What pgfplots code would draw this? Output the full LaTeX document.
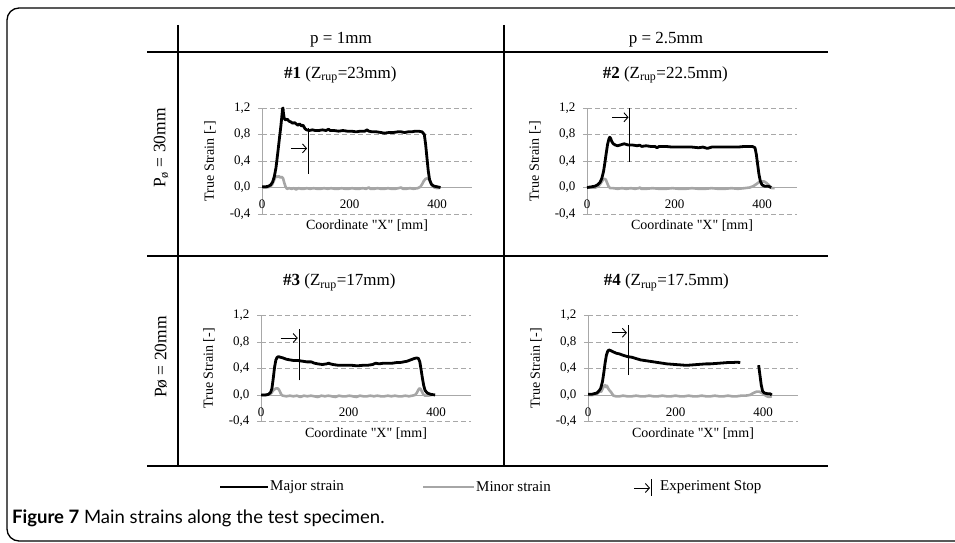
\documentclass[border=0pt]{standalone}
\usepackage{pgfplots}
\pgfplotsset{compat=1.18}
\usepackage{fontspec}
\setmainfont{Liberation Serif}
\newfontfamily\plainserif{Liberation Serif}
\newfontfamily\capfont{Lato}
\usetikzlibrary{arrows.meta}
\definecolor{minorc}{HTML}{A6A6A6}
\definecolor{gridc}{HTML}{A8A8A8}
\pgfplotsset{
  strainax/.style={
    scale only axis, width=210pt, height=106pt,
    xmin=0, xmax=480, ymin=-0.4, ymax=1.2, clip=false,
    axis x line=middle, axis y line=left,
    axis line style={-, draw=gridc, line width=0.9pt},
    hide obscured x ticks=false, hide obscured y ticks=false,
    xtick={0,200,400}, ytick={-0.4,0,0.4,0.8,1.2},
    ymajorgrids, major grid style={gridc, dash pattern=on 5pt off 3pt, line width=0.8pt},
    x tick style={draw=none}, y tick style={draw=gridc, line width=0.8pt},
    tick align=outside, major tick length=4pt,
    /pgf/number format/assume math mode=true,
    yticklabel style={/pgf/number format/.cd, fixed, fixed zerofill, precision=1, use comma, /tikz/.cd, font=\fontsize{13}{14}\selectfont, xshift=-4pt},
    xticklabel style={font=\fontsize{13}{14}\selectfont, yshift=-5pt},
    xlabel={\plainserif Coordinate "X" [mm]}, ylabel={True Strain [-]},
    xlabel style={at={(axis description cs:0.5,0)}, anchor=center, yshift=-12pt, font=\fontsize{14}{16}\selectfont},
    ylabel style={at={(axis description cs:-0.248,0.5)}, anchor=center, font=\fontsize{14}{16}\selectfont},
    title style={at={(axis description cs:0.373,1.255)}, anchor=center, font=\fontsize{17}{19}\selectfont},
  },
  major/.style={black, line width=2.8pt, line join=round},
  minor/.style={minorc, line width=2.6pt, line join=round},
  stopline/.style={black, line width=0.9pt},
  stoparrow/.style={black, line width=0.9pt, -{Straight Barb[length=4pt,width=9pt]}},
}
\begin{document}
\begin{tikzpicture}
\path[use as bounding box] (0pt,0pt) rectangle (955pt,543pt);
% outer frame
\draw[line width=1.3pt, rounded corners=12pt] (975pt,535pt) -- (7pt,535pt) -- (7pt,2pt) -- (975pt,2pt);
% table lines
\draw[line width=2.8pt] (147pt,491pt) -- (828pt,491pt);
\draw[line width=2.8pt] (147pt,287pt) -- (828pt,287pt);
\draw[line width=2.8pt] (147pt,77pt) -- (828pt,77pt);
\draw[line width=2.8pt] (178pt,518pt) -- (178pt,77pt);
\draw[line width=2.8pt] (504pt,518pt) -- (504pt,77pt);
% headers
\node[font=\fontsize{17}{19}\selectfont] at (341pt,503pt) {p = 1mm};
\node[font=\fontsize{17}{19}\selectfont] at (666pt,503pt) {p = 2.5mm};
\node[font=\fontsize{17.5}{19}\selectfont, rotate=90] at (161pt,395pt) {P\textsubscript{ø} = 30mm};
\node[font=\fontsize{17.5}{19}\selectfont, rotate=90] at (161pt,186pt) {Pø = 20mm};

% Panel 1
\begin{axis}[strainax, at={(262pt,329pt)}, anchor=south west, title={{\bfseries\#1} (Z\textsubscript{rup}=23mm)}]
\addplot[minor] coordinates {(0,0.0)(10,0.0)(18,0.01)(23,0.04)(27,0.10)(30,0.15)(33,0.17)(36,0.16)(39,0.17)(42,0.15)(45,0.16)(48,0.14)(51,0.07)(54,0.01)(57,-0.02)(62,-0.01)(68,-0.02)(73,-0.01)(78,-0.03)(84,-0.01)(90,-0.02)(96,-0.02)(102,-0.01)(110,-0.02)(118,-0.01)(126,-0.02)(134,-0.02)(142,-0.01)(150,-0.02)(158,-0.01)(166,-0.02)(174,-0.02)(182,-0.01)(190,-0.02)(198,-0.02)(206,-0.01)(214,-0.02)(222,-0.02)(230,-0.01)(238,-0.02)(244,0.0)(248,-0.02)(256,-0.02)(264,-0.01)(272,-0.02)(280,-0.02)(288,-0.01)(296,-0.02)(304,-0.02)(312,-0.01)(318,0.0)(322,-0.02)(330,-0.02)(338,-0.01)(346,-0.02)(356,-0.01)(362,0.01)(366,0.05)(370,0.10)(374,0.13)(378,0.14)(382,0.12)(386,0.07)(390,0.02)(394,0.0)(400,-0.01)(406,-0.01)};
\addplot[major] coordinates {(0,0.01)(8,0.01)(15,0.02)(20,0.04)(24,0.08)(28,0.16)(32,0.30)(36,0.52)(40,0.75)(43,0.92)(45,1.05)(47,1.19)(48,1.20)(49,1.12)(51,1.04)(54,1.02)(58,1.03)(62,1.00)(66,0.99)(70,0.97)(74,0.98)(78,0.96)(82,0.94)(86,0.96)(90,0.93)(94,0.94)(98,0.89)(102,0.87)(108,0.86)(115,0.87)(122,0.86)(130,0.86)(138,0.87)(146,0.86)(152,0.88)(156,0.86)(165,0.86)(175,0.85)(185,0.86)(195,0.85)(205,0.85)(215,0.84)(225,0.85)(235,0.85)(240,0.87)(244,0.85)(252,0.84)(262,0.84)(272,0.83)(280,0.82)(290,0.83)(300,0.83)(310,0.84)(318,0.84)(326,0.83)(334,0.84)(342,0.84)(350,0.85)(358,0.85)(366,0.84)(371,0.80)(374,0.65)(377,0.45)(380,0.25)(383,0.12)(387,0.05)(393,0.02)(401,0.01)(408,0.0)};
\addplot[stopline] coordinates {(106,0.21)(106,0.90)};
\addplot[stoparrow] coordinates {(66,0.59)(103,0.59)};
\end{axis}

% Panel 2
\begin{axis}[strainax, at={(587pt,329pt)}, anchor=south west, title={{\bfseries\#2} (Z\textsubscript{rup}=22.5mm)}]
\addplot[minor] coordinates {(0,0.0)(12,0.0)(20,0.0)(26,0.02)(30,0.05)(34,0.09)(37,0.12)(40,0.13)(43,0.12)(46,0.07)(49,0.02)(53,-0.01)(60,-0.01)(70,-0.02)(80,-0.01)(90,-0.02)(100,-0.01)(110,-0.02)(118,-0.01)(121,0.0)(124,-0.02)(135,-0.02)(150,-0.01)(165,-0.02)(180,-0.02)(195,-0.01)(210,-0.02)(225,-0.02)(240,-0.01)(255,-0.02)(270,-0.02)(285,-0.01)(300,-0.02)(315,-0.02)(330,-0.01)(345,-0.02)(360,-0.01)(372,0.0)(380,0.02)(387,0.05)(393,0.08)(399,0.09)(405,0.09)(410,0.07)(415,0.04)(419,0.01)(423,-0.01)(429,-0.01)};
\addplot[major] coordinates {(0,0.0)(10,0.01)(18,0.02)(24,0.04)(30,0.08)(34,0.14)(38,0.25)(41,0.38)(44,0.52)(47,0.65)(50,0.73)(52,0.76)(54,0.74)(57,0.69)(60,0.66)(65,0.64)(70,0.63)(75,0.64)(80,0.65)(85,0.66)(90,0.65)(95,0.64)(105,0.64)(115,0.63)(120,0.64)(125,0.62)(135,0.63)(145,0.62)(155,0.62)(160,0.60)(165,0.62)(180,0.62)(195,0.61)(210,0.61)(225,0.61)(240,0.61)(255,0.60)(265,0.61)(275,0.59)(285,0.61)(300,0.61)(315,0.61)(330,0.61)(345,0.61)(360,0.62)(378,0.62)(384,0.60)(387,0.50)(390,0.35)(393,0.20)(396,0.10)(400,0.04)(406,0.02)(414,0.02)(421,0.0)};
\addplot[stopline] coordinates {(98,0.39)(98,1.2)};
\addplot[stoparrow] coordinates {(58,1.06)(95,1.06)};
\end{axis}

% Panel 3
\begin{axis}[strainax, at={(261pt,121.5pt)}, anchor=south west, title={{\bfseries\#3} (Z\textsubscript{rup}=17mm)}]
\addplot[minor] coordinates {(0,0.0)(12,0.0)(19,0.01)(24,0.03)(28,0.07)(32,0.09)(35,0.10)(38,0.10)(41,0.08)(44,0.04)(47,0.0)(50,-0.01)(58,-0.02)(66,-0.01)(74,-0.02)(82,-0.01)(90,-0.03)(98,-0.01)(106,-0.02)(114,-0.01)(122,-0.02)(130,-0.03)(138,-0.01)(146,-0.02)(154,-0.01)(162,-0.02)(170,-0.03)(178,-0.01)(186,-0.02)(194,-0.02)(202,-0.01)(210,-0.02)(218,-0.03)(226,-0.01)(234,-0.02)(242,-0.02)(250,-0.01)(258,-0.02)(266,-0.01)(274,-0.02)(282,-0.02)(290,-0.01)(298,-0.02)(306,-0.01)(314,-0.02)(322,-0.02)(330,-0.01)(338,-0.02)(346,-0.01)(352,0.0)(356,0.03)(359,0.07)(362,0.10)(365,0.09)(368,0.05)(371,0.01)(375,-0.01)(382,-0.01)(390,0.0)};
\addplot[major] coordinates {(0,0.0)(10,0.0)(17,0.01)(22,0.04)(25,0.10)(28,0.25)(31,0.42)(34,0.53)(37,0.57)(40,0.58)(44,0.57)(50,0.56)(58,0.54)(66,0.53)(75,0.52)(85,0.52)(95,0.51)(105,0.50)(115,0.50)(122,0.48)(130,0.47)(140,0.46)(150,0.47)(155,0.48)(158,0.47)(165,0.46)(175,0.45)(190,0.45)(205,0.45)(220,0.44)(235,0.45)(245,0.45)(255,0.46)(262,0.48)(270,0.47)(280,0.48)(290,0.48)(300,0.48)(310,0.49)(318,0.49)(326,0.50)(334,0.51)(342,0.53)(350,0.55)(356,0.56)(360,0.55)(363,0.50)(366,0.38)(369,0.25)(372,0.14)(375,0.07)(380,0.03)(388,0.01)(398,0.0)};
\addplot[stopline] coordinates {(87,0.22)(87,0.99)};
\addplot[stoparrow] coordinates {(45,0.86)(84,0.86)};
\end{axis}

% Panel 4
\begin{axis}[strainax, at={(588pt,121.5pt)}, anchor=south west, title={{\bfseries\#4} (Z\textsubscript{rup}=17.5mm)}]
\addplot[minor] coordinates {(0,0.0)(10,0.0)(17,0.01)(23,0.03)(27,0.06)(30,0.05)(33,0.09)(36,0.13)(39,0.15)(41,0.12)(43,0.14)(46,0.10)(49,0.07)(52,0.05)(55,0.02)(58,-0.01)(64,-0.02)(72,-0.02)(80,-0.01)(90,-0.02)(100,-0.02)(110,-0.01)(120,-0.02)(130,-0.02)(140,-0.01)(150,-0.02)(160,-0.02)(170,-0.01)(180,-0.02)(190,-0.02)(200,-0.01)(210,-0.02)(220,-0.02)(230,-0.01)(240,-0.02)(250,-0.02)(260,-0.01)(270,-0.02)(280,-0.02)(290,-0.01)(300,-0.02)(310,-0.02)(320,-0.01)(330,-0.02)(340,-0.02)(350,-0.01)(360,-0.01)(370,0.0)(378,0.03)(385,0.05)(392,0.05)(398,0.03)(404,0.0)(409,-0.02)(414,-0.03)(420,-0.02)};
\addplot[major] coordinates {(0,0.01)(8,0.01)(14,0.02)(20,0.03)(25,0.06)(29,0.10)(33,0.20)(36,0.33)(39,0.48)(42,0.60)(45,0.66)(48,0.68)(52,0.67)(58,0.65)(65,0.63)(72,0.62)(80,0.60)(90,0.58)(100,0.57)(110,0.55)(120,0.53)(130,0.52)(140,0.51)(150,0.50)(160,0.49)(170,0.48)(180,0.47)(190,0.465)(200,0.46)(210,0.455)(220,0.45)(230,0.45)(240,0.455)(250,0.46)(260,0.465)(270,0.47)(280,0.47)(290,0.475)(300,0.48)(310,0.485)(320,0.49)(330,0.49)(340,0.495)(348,0.49)};
\addplot[major] coordinates {(390,0.45)(393,0.30)(396,0.15)(399,0.06)(403,0.03)(410,0.02)(416,0.02)(420,0.0)};
\addplot[stopline] coordinates {(92,0.30)(92,1.06)};
\addplot[stoparrow] coordinates {(54,0.94)(89,0.94)};
\end{axis}

% legend
\draw[line width=2.8pt] (220pt,56pt) -- (268pt,56pt);
\node[anchor=west, inner sep=0pt, font=\fontsize{15}{17}\selectfont] at (270pt,56pt) {Major strain};
\draw[minorc, line width=2.8pt] (423pt,56pt) -- (474pt,56pt);
\node[anchor=west, inner sep=0pt, font=\fontsize{15}{17}\selectfont] at (476pt,56pt) {Minor strain};
\draw[line width=0.9pt, -{Straight Barb[length=4pt,width=9pt]}] (634pt,55pt) -- (650pt,55pt);
\draw[line width=0.9pt] (651pt,47pt) -- (651pt,64pt);
\node[anchor=west, inner sep=0pt, font=\fontsize{15}{17}\selectfont] at (660pt,56pt) {Experiment Stop};
% caption
\node[anchor=west, inner sep=0pt, font=\capfont\fontsize{18.5}{20}\selectfont] at (12pt,25pt) {{\bfseries Figure 7} Main strains along the test specimen.};
\end{tikzpicture}
\end{document}
